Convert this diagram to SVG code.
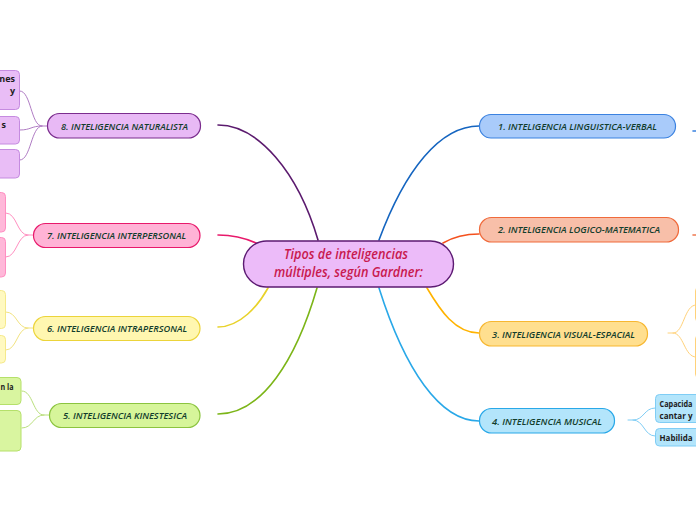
<svg xmlns="http://www.w3.org/2000/svg" width="696" height="520" viewBox="0 0 696 520">
<style>
.main{fill:none;stroke-width:1.6;stroke-linecap:round}
.sub{fill:none;stroke-width:1;stroke-linecap:round}
.lbl{font-family:"Open Sans","Noto Sans",sans-serif;font-style:italic;font-weight:600;font-size:9px;fill:#123d2c;text-anchor:start}
.st{font-family:"Open Sans","Noto Sans",sans-serif;font-weight:bold;font-size:9px;fill:#1c1c1c}
.ctr{font-family:"Open Sans","Noto Sans",sans-serif;font-style:italic;font-weight:600;font-size:13.5px;fill:#c8194e}
</style>
<rect width="696" height="520" fill="#ffffff"/>
<g id="connectors">
  <path class="main" stroke="#5b1a6e" d="M218,125 C258,125 298,172 318,240"/>
  <path class="main" stroke="#e8196b" d="M218,235 C232,235 245,238 256,243"/>
  <path class="main" stroke="#e8d22a" d="M218,327 C240,327 258,306 268,288"/>
  <path class="main" stroke="#7cb518" d="M218,414 C262,414 296,360 317,288"/>
  <path class="main" stroke="#1565c0" d="M379,240 C405,170 440,126 479,126"/>
  <path class="main" stroke="#f4511e" d="M443,243 C455,236 466,234 479,234"/>
  <path class="main" stroke="#ffb300" d="M427,288 C440,310 455,333 479,333"/>
  <path class="main" stroke="#29a8e8" d="M379,288 C405,370 440,421 479,421"/>
  <path class="main" stroke="#3b82e0" d="M693,131 L696,131"/>
  <path class="main" stroke="#f07a50" d="M693,235 L696,235"/>
  <path class="sub" stroke="#b07cc4" d="M47,126 L42,126 C31,126 31,91 20,91 M42,126 C31,126 31,130 20,130 M42,126 C31,126 31,160 20,160"/>
  <path class="sub" stroke="#ff8fc0" d="M33,235 L28,235 C17,235 17,213 6,213 M28,235 C17,235 17,257 6,257"/>
  <path class="sub" stroke="#f2e380" d="M33,328 L28,328 C17,328 17,312 6,312 M28,328 C17,328 17,350 6,350"/>
  <path class="sub" stroke="#b9df7c" d="M49,415 L44,415 C33,415 33,391 22,391 M44,415 C33,415 33,428 22,428"/>
  <path class="sub" stroke="#ffd27a" d="M668,333 L673,333 C684,333 684,305 696,305 M673,333 C684,333 684,357 696,357"/>
  <path class="sub" stroke="#7fcdf5" d="M628,420 L633,420 C644,420 644,408 655,408 M633,420 C644,420 644,436 655,436"/>
</g>
<g id="center">
  <rect x="243.5" y="241" width="210" height="46" rx="23" fill="#ecbbf9" stroke="#5c1a72" stroke-width="1.4"/>
  <text class="ctr" x="284" y="259" textLength="124" lengthAdjust="spacingAndGlyphs">Tipos de inteligencias</text>
  <text class="ctr" x="274" y="277" textLength="149" lengthAdjust="spacingAndGlyphs">múltiples, según Gardner:</text>
</g>
<g id="n1">
  <rect x="479.5" y="114.5" width="196" height="23.5" rx="11.5" fill="#a9cbfa" stroke="#3b82e0" stroke-width="1.2"/>
  <text class="lbl" x="498" y="129.5" textLength="159" lengthAdjust="spacingAndGlyphs">1. INTELIGENCIA LINGUISTICA-VERBAL</text>
</g>
<g id="n2">
  <rect x="479.5" y="217.5" width="199" height="24.5" rx="12" fill="#f8bfa9" stroke="#f06a3b" stroke-width="1.2"/>
  <text class="lbl" x="498" y="233" textLength="162" lengthAdjust="spacingAndGlyphs">2. INTELIGENCIA LOGICO-MATEMATICA</text>
</g>
<g id="n3">
  <rect x="479.5" y="321.5" width="168" height="24.5" rx="12" fill="#ffdf8f" stroke="#f7b731" stroke-width="1.2"/>
  <text class="lbl" x="492" y="337.5" textLength="143" lengthAdjust="spacingAndGlyphs">3. INTELIGENCIA VISUAL-ESPACIAL</text>
</g>
<g id="n4">
  <rect x="479.5" y="408.5" width="135" height="24.5" rx="12" fill="#b3e5fb" stroke="#29a8e8" stroke-width="1.2"/>
  <text class="lbl" x="492" y="425" textLength="110" lengthAdjust="spacingAndGlyphs">4. INTELIGENCIA MUSICAL</text>
</g>
<g id="n8">
  <rect x="47.5" y="113.5" width="153" height="24.5" rx="12" fill="#e8b9f5" stroke="#7b2d8e" stroke-width="1.2"/>
  <text class="lbl" x="61" y="129.5" textLength="127" lengthAdjust="spacingAndGlyphs">8. INTELIGENCIA NATURALISTA</text>
</g>
<g id="n7">
  <rect x="33.5" y="223.5" width="166.5" height="24" rx="12" fill="#ffb3d6" stroke="#e8196b" stroke-width="1.2"/>
  <text class="lbl" x="47" y="239" textLength="139" lengthAdjust="spacingAndGlyphs">7. INTELIGENCIA INTERPERSONAL</text>
</g>
<g id="n6">
  <rect x="33.5" y="316.5" width="166.5" height="24" rx="12" fill="#fff7b0" stroke="#ecd43a" stroke-width="1.2"/>
  <text class="lbl" x="47" y="332" textLength="140" lengthAdjust="spacingAndGlyphs">6. INTELIGENCIA INTRAPERSONAL</text>
</g>
<g id="n5">
  <rect x="49.5" y="403.5" width="150.5" height="24" rx="12" fill="#d6f59a" stroke="#8bc43f" stroke-width="1.2"/>
  <text class="lbl" x="63" y="419" textLength="124" lengthAdjust="spacingAndGlyphs">5. INTELIGENCIA KINESTESICA</text>
</g>
<g id="s8a">
  <rect x="-10" y="70.5" width="29.5" height="39" rx="4" fill="#e9bdf6" stroke="#c58be0" stroke-width="1"/>
  <text class="st" x="15" y="82" text-anchor="end">nes</text>
  <text class="st" x="15" y="94" text-anchor="end">y</text>
</g>
<g id="s8b">
  <rect x="-10" y="116.5" width="29.5" height="27.5" rx="4" fill="#e9bdf6" stroke="#c58be0" stroke-width="1"/>
  <text class="st" x="6" y="128" text-anchor="end">s</text>
</g>
<g id="s8c">
  <rect x="-10" y="149.5" width="29.5" height="28.5" rx="4" fill="#e9bdf6" stroke="#c58be0" stroke-width="1"/>
</g>
<g id="s7a"><rect x="-10" y="192.5" width="15.5" height="39.5" rx="4" fill="#ffb8d9" stroke="#ff8fc2" stroke-width="1"/></g>
<g id="s7b"><rect x="-10" y="237.5" width="15.5" height="39.5" rx="4" fill="#ffb8d9" stroke="#ff8fc2" stroke-width="1"/></g>
<g id="s6a"><rect x="-10" y="290.5" width="15.5" height="38" rx="4" fill="#fff9c0" stroke="#f5e98a" stroke-width="1"/></g>
<g id="s6b"><rect x="-10" y="335.5" width="15.5" height="27.5" rx="4" fill="#fff9c0" stroke="#f5e98a" stroke-width="1"/></g>
<g id="s5a">
  <rect x="-10" y="377.5" width="31" height="27" rx="4" fill="#d9f5a0" stroke="#b5e06a" stroke-width="1"/>
  <text class="st" x="0.5" y="390" textLength="13" lengthAdjust="spacingAndGlyphs">n la</text>
</g>
<g id="s5b"><rect x="-10" y="410.5" width="31" height="40.5" rx="4" fill="#d9f5a0" stroke="#b5e06a" stroke-width="1"/></g>
<g id="s3a"><rect x="695.5" y="287" width="20" height="35" rx="4" fill="#fff3cf" stroke="#ffd27a" stroke-width="1"/></g>
<g id="s3b"><rect x="695.5" y="335" width="20" height="43" rx="4" fill="#fff3cf" stroke="#ffd27a" stroke-width="1"/></g>
<g id="s4a">
  <rect x="655.5" y="394.5" width="60" height="28" rx="4" fill="#b3e5fb" stroke="#7fcdf5" stroke-width="1"/>
  <text class="st" x="659.5" y="407" textLength="33" lengthAdjust="spacingAndGlyphs">Capacida</text>
  <text class="st" x="659.5" y="419" textLength="33" lengthAdjust="spacingAndGlyphs">cantar y</text>
</g>
<g id="s4b">
  <rect x="655.5" y="428.5" width="60" height="17.5" rx="4" fill="#b3e5fb" stroke="#7fcdf5" stroke-width="1"/>
  <text class="st" x="659.5" y="441" textLength="33" lengthAdjust="spacingAndGlyphs">Habilida</text>
</g>
</svg>
